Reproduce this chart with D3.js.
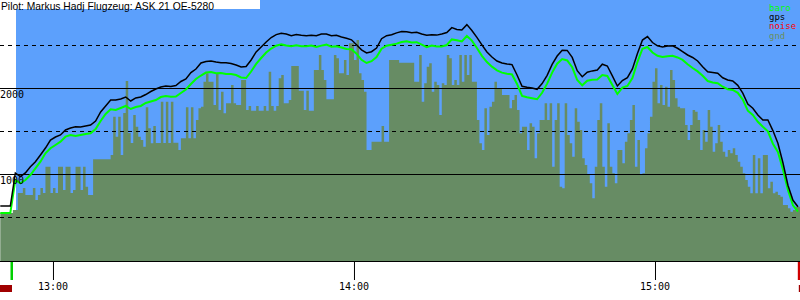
<!DOCTYPE html>
<html>
<head>
<meta charset="utf-8">
<script src="https://cdn.jsdelivr.net/npm/d3@7"></script>
<style>
  body { margin: 0; background: #fff; }
  svg { display: block; }
</style>
</head>
<body>
<svg id="chart" width="800" height="300"></svg>
<script>
/*global d3*/
const title = "Pilot: Markus Hadj Flugzeug: ASK 21 OE-5280"

// time of the first sample, sample spacing in seconds
const seriesStart = "12:49:30"
const lineStep = 60
const gndStep = 30

const takeoff = "12:51:50"
const landing = "15:28:40"

// altitudes in metres, one per minute
const baro = [547,547,547,930,892,930,988,1066,1143,1241,
  1299,1337,1376,1434,1454,1442,1454,1465,1473,1523,
  1616,1698,1752,1744,1767,1791,1756,1779,1791,1826,
  1843,1860,1895,1907,1899,1901,1942,1983,2047,2105,
  2145,2180,2186,2172,2174,2163,2163,2151,2122,2116,
  2192,2281,2349,2413,2459,2492,2507,2495,2485,2498,
  2486,2486,2494,2477,2493,2504,2481,2486,2471,2454,
  2450,2399,2328,2291,2312,2360,2457,2492,2504,2516,
  2535,2543,2530,2533,2504,2474,2493,2483,2483,2500,
  2565,2556,2541,2605,2551,2465,2374,2302,2248,2206,
  2179,2166,2158,2047,1907,1892,1880,1869,1944,2051,
  2179,2283,2337,2320,2241,2093,2031,2084,2097,2098,
  2150,2140,2035,1930,2005,2023,2116,2302,2457,2477,
  2413,2374,2360,2370,2374,2355,2326,2277,2233,2193,
  2142,2081,2064,2055,2015,1986,1977,1944,1865,1736,
  1686,1607,1550,1497,1352,1256,1052,814,636,562]

const gps = [628,628,628,1012,969,1012,1085,1143,1221,1302,
  1395,1430,1454,1512,1535,1550,1547,1558,1570,1616,
  1721,1791,1860,1860,1872,1895,1849,1884,1895,1924,
  1959,1988,2012,2023,2017,2029,2076,2105,2180,2221,
  2291,2308,2314,2302,2294,2293,2285,2267,2244,2250,
  2326,2419,2477,2535,2587,2621,2636,2628,2609,2622,
  2614,2608,2614,2609,2628,2628,2607,2613,2593,2578,
  2560,2502,2444,2407,2422,2465,2573,2608,2619,2641,
  2657,2654,2642,2649,2628,2613,2620,2615,2629,2645,
  2702,2680,2674,2737,2669,2588,2502,2419,2360,2314,
  2290,2279,2272,2151,2020,2008,2000,1985,2052,2148,
  2274,2372,2440,2437,2356,2201,2131,2184,2199,2209,
  2277,2256,2140,2023,2087,2121,2221,2402,2558,2598,
  2529,2491,2477,2487,2491,2462,2423,2384,2355,2314,
  2248,2188,2180,2171,2119,2093,2081,2031,1941,1814,
  1764,1686,1628,1628,1505,1357,1131,869,694,620]

// terrain elevation under the glider, every 30 s
const gnd = [547,547,547,547,547,581,581,779,779,837,
  756,756,756,837,698,756,837,779,1085,1085,
  779,837,779,1085,1085,814,1085,1085,779,814,
  1085,1085,814,1085,852,756,756,1171,1171,1171,
  1171,1171,1171,1171,1221,1666,1434,1666,1221,1709,
  2081,1477,1360,1686,1550,1434,1395,1317,1776,1531,
  1357,1558,1360,1360,1841,1360,1841,1360,1841,1364,
  1364,1279,1415,1415,1776,1415,1776,1415,1628,1764,
  1783,2073,2171,2073,2073,1802,2171,1744,1957,1706,
  1822,1822,2035,1822,1802,1802,2093,2093,1744,1791,
  1736,1736,1791,1736,1736,1791,1736,2190,1791,1736,
  1791,2113,2151,1822,1822,1860,2256,2256,2256,1969,
  1969,1744,1969,1736,1736,2209,2209,2384,2209,2093,
  1869,1869,1869,2384,2345,2171,2171,2326,2151,2520,
  2520,2326,2558,2171,2093,1957,1279,1279,1376,1376,
  1376,1376,1558,1376,1376,2326,2326,2326,2326,2294,
  2294,2294,2294,2294,2294,2073,2073,2384,1841,2055,
  2248,2287,1957,2073,2035,1686,2055,2035,2384,2345,
  2035,2093,2035,2384,2073,2384,2151,2384,2073,2073,
  1628,1357,1279,1764,1454,1783,1841,2073,1997,1997,
  1919,1919,1919,1764,1860,1919,1744,1473,1550,1550,
  1279,1590,1550,1183,1473,1628,1628,1822,1628,1822,
  1085,1628,1822,852,834,1822,1454,1357,1201,1764,
  1608,1512,1183,1105,988,892,717,1085,1628,1822,
  1085,852,1590,1085,1008,892,1279,1279,1124,1376,
  1473,1628,1802,1085,1395,988,1008,1299,1473,1666,
  2073,2229,1822,2035,1802,2015,1783,2209,2093,1880,
  1783,1764,1764,1570,1395,1570,1744,1724,1628,1279,
  1512,1376,1744,1550,1259,1357,1570,1376,1259,1201,
  1279,1241,1299,1221,1143,1085,1008,930,852,776,
  1221,776,1183,776,1221,1221,834,910,776,794,
  756,736,640,640,601,562,581,620,620]

const altGrid = [500, 1000, 1500, 2000, 2500]
const altLabels = [1000, 2000]
const timeDomain = ["12:50:00", "15:30:00"]

const legendNames = ["baro", "gps", "noise", "gnd"]
const legendColors = ["#00ff00", "#000000", "#ff0000", "#6a8f64"]

const W = 800
const blue = "#5ca0fc"
const earth = "#678c64"
const mono = "DejaVu Sans Mono, monospace"

const parse = d3.timeParse("%H:%M:%S")
const t0 = parse(seriesStart)

const x = d3.scaleTime()
  .domain(timeDomain.map(parse))
  .range([2.8, 805.5])

const y = d3.scaleLinear()
  .domain([0, 3000])
  .range([260, 2])

const svg = d3.select("#chart")

// plot background
svg.append("rect")
  .attr("x", 16).attr("y", 0)
  .attr("width", W - 16).attr("height", 261)
  .attr("fill", blue)

// white box behind the title
svg.append("rect")
  .attr("x", 0).attr("y", 0)
  .attr("width", 260).attr("height", 9)
  .attr("fill", "#fff")

// terrain
const gndPts = gnd.map((v, i) => ({ t: d3.timeSecond.offset(t0, i * gndStep), v }))
gndPts.push({ t: d3.timeSecond.offset(t0, gnd.length * gndStep), v: gnd[gnd.length - 1] })

svg.append("path")
  .datum(gndPts)
  .attr("fill", earth)
  .attr("d", d3.area()
    .curve(d3.curveStepAfter)
    .x(d => x(d.t))
    .y0(261)
    .y1(d => y(d.v)))

// altitude grid
svg.selectAll("line.grid")
  .data(altGrid)
  .join("line")
  .attr("class", "grid")
  .attr("x1", 0).attr("x2", W)
  .attr("y1", d => Math.round(y(d)) + 0.5)
  .attr("y2", d => Math.round(y(d)) + 0.5)
  .attr("stroke", "#000")
  .attr("stroke-width", 1)
  .attr("stroke-dasharray", d => d % 1000 ? "4,4" : null)

// baro and gps traces
const trace = d3.line()
  .x((d, i) => x(d3.timeSecond.offset(t0, i * lineStep)))
  .y(d => y(d))

svg.append("path")
  .datum(baro)
  .attr("fill", "none")
  .attr("stroke", "#00ff00")
  .attr("stroke-width", 2)
  .attr("d", trace)

svg.append("path")
  .datum(gps)
  .attr("fill", "none")
  .attr("stroke", "#000")
  .attr("stroke-width", 1.5)
  .attr("d", trace)

// altitude labels
svg.selectAll("text.alt")
  .data(altLabels)
  .join("text")
  .attr("class", "alt")
  .attr("x", 0)
  .attr("y", d => y(d) + 10)
  .attr("font-family", mono)
  .attr("font-size", 10)
  .text(d => d)

// time axis
svg.append("line")
  .attr("x1", 0).attr("x2", W)
  .attr("y1", 261.5).attr("y2", 261.5)
  .attr("stroke", "#000")

const axisG = svg.append("g").attr("transform", "translate(0,261)")
axisG.call(d3.axisBottom(x)
  .ticks(d3.timeMinute.every(5))
  .tickSize(6)
  .tickFormat(""))
axisG.call(d3.axisBottom(x)
  .ticks(d3.timeHour.every(1))
  .tickSize(19)
  .tickFormat(""))
axisG.selectAll(".domain").remove()
axisG.selectAll("line").attr("stroke", "#000")

const hours = x.ticks(d3.timeHour.every(1))
svg.selectAll("text.hour")
  .data(hours)
  .join("text")
  .attr("class", "hour")
  .attr("x", d => x(d))
  .attr("y", 290)
  .attr("text-anchor", "middle")
  .attr("font-family", mono)
  .attr("font-size", 10)
  .text(d3.timeFormat("%H:%M"))

// takeoff and landing marks
const tOff = x(parse(takeoff))
const tLand = x(parse(landing))
svg.append("rect")
  .attr("x", tOff - 1.5).attr("y", 262)
  .attr("width", 2.5).attr("height", 18)
  .attr("fill", "#00d000")
svg.append("rect")
  .attr("x", tLand - 1).attr("y", 262)
  .attr("width", 2.5).attr("height", 18)
  .attr("fill", "#d00000")
svg.append("rect")
  .attr("x", 0).attr("y", 285)
  .attr("width", tOff).attr("height", 7)
  .attr("fill", "#a00000")
svg.append("rect")
  .attr("x", tLand).attr("y", 285)
  .attr("width", W - tLand).attr("height", 7)
  .attr("fill", "#a00000")

// title
svg.append("text")
  .attr("x", 1)
  .attr("y", 10)
  .attr("font-family", "Liberation Sans, Arial, sans-serif")
  .attr("font-size", 10.3)
  .attr("fill", "#000")
  .text(title)

// legend
svg.selectAll("text.legend")
  .data(legendNames)
  .join("text")
  .attr("class", "legend")
  .attr("x", 769)
  .attr("y", (d, i) => 11 + i * 9.2)
  .attr("font-family", mono)
  .attr("font-size", 9)
  .attr("fill", (d, i) => legendColors[i])
  .text(d => d)
</script>
</body>
</html>
